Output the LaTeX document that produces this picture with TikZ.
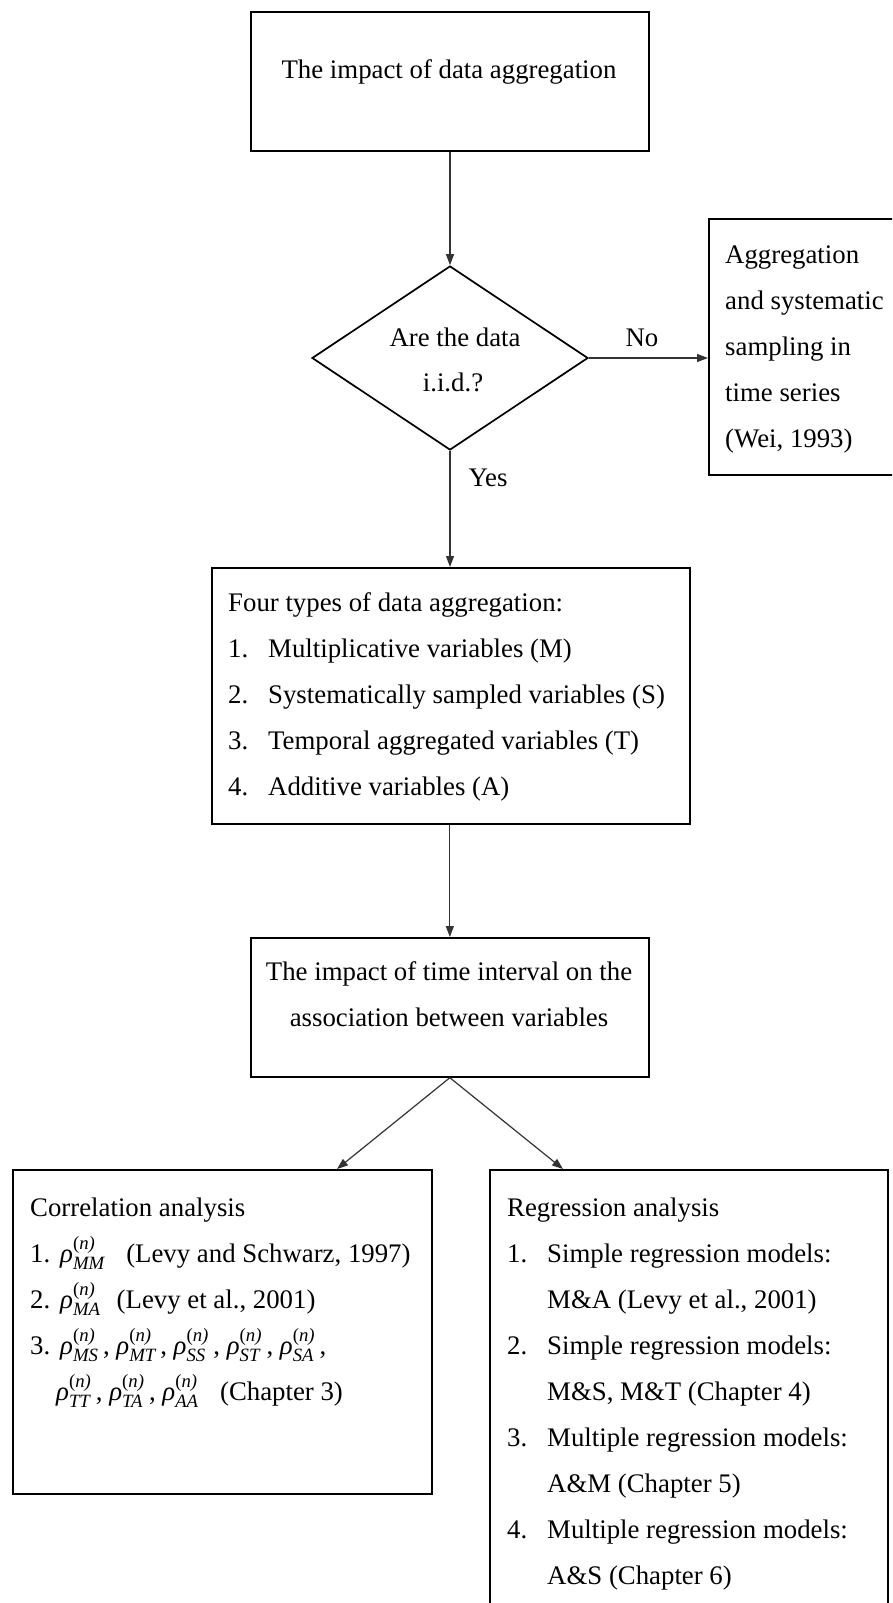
\documentclass[tikz,border=0pt]{standalone}
\usepackage{amsmath}
\usepackage{fontspec}
\setmainfont{Liberation Serif}
\usetikzlibrary{arrows.meta,shapes.geometric,calc}
\newcommand\rhoterm[1]{\ensuremath{\text{\itshape ρ}^{\text{(\itshape n\/)}}_{\text{\itshape #1}}}}
\begin{document}
\begin{tikzpicture}[x=1pt,y=-1pt,
  every node/.style={font=\fontsize{26.8}{46}\selectfont},
  box/.style={draw, line width=1.7pt, rectangle, inner sep=0pt, anchor=north west},
  conn/.style={line width=1.2pt, draw=black!80, -{Triangle[length=11pt,width=8pt]}},
  ctxt/.style={anchor=base, inner sep=0pt},
  ltxt/.style={anchor=base west, inner sep=0pt}]
\useasboundingbox (0,0) rectangle (892,1603);
\fill[white] (0,0) rectangle (892,1603);
\clip (0,0) rectangle (892,1603);

% boxes
\node[box, minimum width=398pt, minimum height=139pt] (top) at (250,11) {};
\node[draw, line width=1.7pt, shape=diamond, inner sep=0pt, minimum width=276pt, minimum height=184pt] (dia) at (450,358) {};
\node[box, minimum width=200pt, minimum height=256pt] (wei) at (708,218) {};
\node[box, minimum width=478pt, minimum height=256pt] (four) at (211,567) {};
\node[box, minimum width=398pt, minimum height=139pt] (time) at (250,937) {};
\node[box, minimum width=419pt, minimum height=324pt] (corr) at (12,1169) {};
\node[box, minimum width=398pt, minimum height=460pt] (reg) at (489,1169) {};

% texts
\node[ctxt] (ttop) at (449,78) {The impact of data aggregation};
\node[ctxt] (tdia1) at (455,346) {Are the data};
\node[ctxt] (tdia2) at (453,391) {i.i.d.?};
\node[ctxt] (tno) at (642,346) {No};
\node[ctxt] (tyes) at (488,486) {Yes};

\node[ltxt] (tw1) at (725,263) {Aggregation};
\node[ltxt] (tw2) at (725,309) {and systematic};
\node[ltxt] (tw3) at (725,355) {sampling in};
\node[ltxt] (tw4) at (725,401) {time series};
\node[ltxt] (tw5) at (725,447) {(Wei, 1993)};

\node[ltxt] (tf0) at (228,611) {Four types of data aggregation:};
\node[ltxt] (tf1) at (228,657) {\makebox[40pt][l]{1.}Multiplicative variables (M)};
\node[ltxt] (tf2) at (228,703) {\makebox[40pt][l]{2.}Systematically sampled variables (S)};
\node[ltxt] (tf3) at (228,749) {\makebox[40pt][l]{3.}Temporal aggregated variables (T)};
\node[ltxt] (tf4) at (228,795) {\makebox[40pt][l]{4.}Additive variables (A)};

\node[ctxt] (tt1) at (449,980) {The impact of time interval on the};
\node[ctxt] (tt2) at (449,1026) {association between variables};

\node[ltxt] (tc0) at (30,1216) {Correlation analysis};
\node[ltxt] (tc1) at (30,1262) {\makebox[30pt][l]{1.}\rhoterm{MM}\hspace{0.8em}(Levy and Schwarz, 1997)};
\node[ltxt] (tc2) at (30,1308) {\makebox[30pt][l]{2.}\rhoterm{MA}\hspace{0.6em}(Levy et al., 2001)};
\node[ltxt] (tc3) at (30,1354) {\makebox[30pt][l]{3.}\rhoterm{MS}\,, \rhoterm{MT}\,, \rhoterm{SS}\,, \rhoterm{ST}\,, \rhoterm{SA}\,,};
\node[ltxt] (tc4) at (56,1400) {\rhoterm{TT}\,, \rhoterm{TA}\,, \rhoterm{AA}\hspace{0.8em}(Chapter 3)};

\node[ltxt] (tr0) at (507,1216) {Regression analysis};
\node[ltxt] (tr1) at (507,1262) {\makebox[40pt][l]{1.}Simple regression models:};
\node[ltxt] (tr2) at (547,1308) {M\&A (Levy et al., 2001)};
\node[ltxt] (tr3) at (507,1354) {\makebox[40pt][l]{2.}Simple regression models:};
\node[ltxt] (tr4) at (547,1400) {M\&S, M\&T (Chapter 4)};
\node[ltxt] (tr5) at (507,1446) {\makebox[40pt][l]{3.}Multiple regression models:};
\node[ltxt] (tr6) at (547,1492) {A\&M (Chapter 5)};
\node[ltxt] (tr7) at (507,1538) {\makebox[40pt][l]{4.}Multiple regression models:};
\node[ltxt] (tr8) at (547,1584) {A\&S (Chapter 6)};

% connectors
\draw[conn] (top.south -| dia.north) -- (dia.north);
\draw[conn] (dia.east) -- (dia.east -| wei.west);
\draw[conn] (dia.south) -- (dia.south |- four.north);
\draw[conn] (four.south -| time.north) -- (time.north);
\draw[conn] (time.south) -- ($(corr.north west)+(325,0)$);
\draw[conn] (time.south) -- ($(reg.north west)+(74,0)$);
\end{tikzpicture}
\end{document}
